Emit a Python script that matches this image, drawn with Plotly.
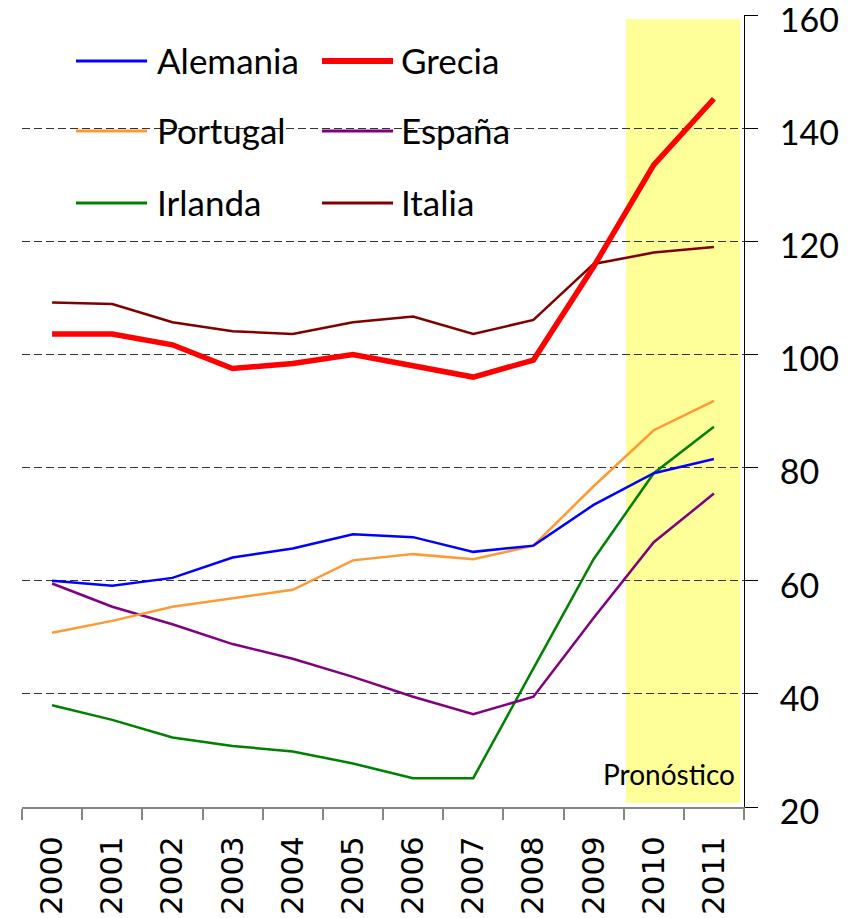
import plotly.graph_objects as go

years = ["2000", "2001", "2002", "2003", "2004", "2005", "2006", "2007", "2008", "2009", "2010", "2011"]

alemania = [60.0, 59.1, 60.5, 64.1, 65.7, 68.2, 67.7, 65.1, 66.2, 73.4, 79.0, 81.5]
grecia = [103.6, 103.6, 101.7, 97.5, 98.4, 100.0, 98.0, 96.0, 99.0, 115.5, 133.5, 145.2]
portugal = [50.8, 52.9, 55.4, 56.9, 58.4, 63.6, 64.7, 63.8, 66.2, 76.7, 86.6, 91.8]
espana = [59.5, 55.4, 52.3, 48.8, 46.2, 43.0, 39.5, 36.4, 39.5, 53.4, 66.8, 75.4]
irlanda = [38.0, 35.4, 32.3, 30.8, 29.8, 27.7, 25.1, 25.1, 44.5, 63.8, 79.0, 87.2]
italia = [109.2, 108.9, 105.7, 104.1, 103.6, 105.7, 106.7, 103.6, 106.1, 116.0, 118.0, 119.0]

series_names = ["Alemania", "Grecia", "Portugal", "España", "Irlanda", "Italia"]
series_values = [alemania, grecia, portugal, espana, irlanda, italia]
series_colors = ["#0000FF", "#FF0000", "#FF9933", "#800080", "#008000", "#800000"]
series_widths = [2.5, 5.5, 2.5, 2.5, 2.5, 2.5]

y_ticks = [20, 40, 60, 80, 100, 120, 140, 160]
forecast_label = "Pronóstico"

# page offset (browser body margin) and plot area in page pixels
OFF = 8
W, H = 850 - OFF, 918 - OFF
L, R, T, B = 22, 744, 15, 807


def px(x):
    return (x - L) / (R - L)


def py(y):
    return (B - y) / (B - T)


fig = go.Figure()

order = [5, 4, 3, 2, 0, 1]
for i in order:
    fig.add_trace(go.Scatter(
        x=years, y=series_values[i], mode="lines", name=series_names[i],
        line=dict(color=series_colors[i], width=series_widths[i]),
        showlegend=False, hoverinfo="x+y+name",
    ))

shapes = []
shapes.append(dict(type="rect", xref="paper", yref="paper",
                   x0=px(626), x1=px(740), y0=py(803), y1=py(19),
                   fillcolor="#FFFF99", line=dict(width=0), layer="below"))
shapes.append(dict(type="rect", xref="paper", yref="paper",
                   x0=px(66), x1=px(556), y0=py(230), y1=py(35),
                   fillcolor="white", line=dict(width=0), layer="between"))

annotations = []
leg_rows = [61, 131, 203]
leg_cols = [(76, 147, 155), (322, 393, 399)]
for k in range(6):
    r, c = divmod(k, 2)
    x0, x1, tx = leg_cols[c]
    yy = leg_rows[r]
    shapes.append(dict(type="line", xref="paper", yref="paper",
                       x0=px(x0), x1=px(x1), y0=py(yy), y1=py(yy),
                       line=dict(color=series_colors[k], width=series_widths[k] + 0.5),
                       layer="above"))
    annotations.append(dict(xref="paper", yref="paper", x=px(tx), y=py(yy - 1),
                            xanchor="left", yanchor="middle", showarrow=False,
                            text=series_names[k],
                            font=dict(family="Lato", size=35, color="black")))

annotations.append(dict(xref="paper", yref="paper", x=px(737), y=py(774),
                        xanchor="right", yanchor="middle", showarrow=False,
                        text=forecast_label,
                        font=dict(family="Lato", size=28, color="black")))

fig.update_layout(
    width=W, height=H,
    margin=dict(l=L - OFF, r=W - (R - OFF), t=T - OFF, b=H - (B - OFF), pad=0, autoexpand=False),
    paper_bgcolor="white", plot_bgcolor="white",
    showlegend=False,
    shapes=shapes, annotations=annotations,
    xaxis=dict(
        type="category", range=[-0.5, 11.5],
        tickson="boundaries", ticks="outside", ticklen=11, tickwidth=1.5,
        tickcolor="#868686", showline=True, linecolor="#868686", linewidth=1.5,
        showgrid=False, tickangle=-90,
        tickfont=dict(family="DejaVu Sans", size=31, color="black"),
        ticklabelstandoff=15, automargin=False,
    ),
    yaxis=dict(
        side="right", range=[20, 160], tickvals=y_ticks,
        ticks="outside", ticklen=13, tickwidth=1, tickcolor="black",
        showline=True, linecolor="black", linewidth=1,
        showgrid=True, gridcolor="#333333", griddash="8px,4px", gridwidth=1,
        zeroline=False, ticklabeloverflow="allow", automargin=False,
        tickfont=dict(family="Lato", size=34, color="black"),
        ticklabelstandoff=15, ticklabelshift=5,
    ),
)

fig.write_html("out.html")
